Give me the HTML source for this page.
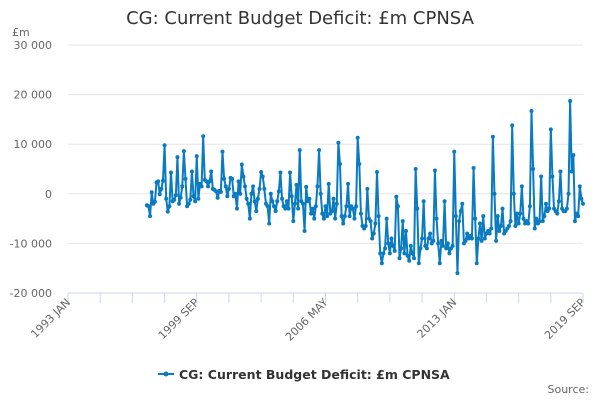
<!DOCTYPE html>
<html><head><meta charset="utf-8">
<style>
body{margin:0;background:#fff;font-family:"Liberation Sans","DejaVu Sans",sans-serif;}
svg text{font-family:"DejaVu Sans","Liberation Sans",sans-serif;}
</style></head>
<body>
<svg id="chart" width="600" height="400" xmlns="http://www.w3.org/2000/svg">
<text x="300" y="24" text-anchor="middle" font-size="18" fill="#333">CG: Current Budget Deficit: £m CPNSA</text>
<text x="12" y="36" font-size="11" fill="#666">£m</text>
<g id="grid"></g><g id="xaxis"></g><g id="series"></g>
<g>
<line x1="158" y1="374" x2="174" y2="374" stroke="#0a7bc1" stroke-width="2"/>
<circle cx="166" cy="374" r="2.5" fill="#0a7bc1"/>
<text x="179" y="379" font-size="12.5" font-weight="bold" fill="#333">CG: Current Budget Deficit: £m CPNSA</text>
</g>
<text x="589" y="393" text-anchor="end" font-size="11" fill="#666">Source:</text>
</svg>
<script>
const yTicks=[30000,20000,10000,0,-10000,-20000];
const yTickLabels=["30 000","20 000","10 000","0","-10 000","-20 000"];
const xTickLabels=["1993 JAN","1999 SEP","2006 MAY","2013 JAN","2019 SEP"];
const xTickMonths=[0,80,160,240,320];
const startMonth=49; // Feb 1997, months since Jan 1993
const values=[
-2300,-2500,-4500,300,-2000,-1600,2300,2500,-100,1000,2600,
9800,-1000,-3600,-2500,4300,-1500,-1200,-300,7400,-2000,-800,1500,
8600,3000,-2500,-2000,-1200,4500,-500,-1500,7600,-1000,2000,1500,
11600,2800,2500,1500,2500,4500,1000,800,500,-800,600,400,
8500,3000,1500,-500,1000,3200,3000,-500,0,-3000,2500,0,
5900,3500,1500,-1000,-2000,-5000,0,1500,-1500,-3500,-1000,1000,
4400,3500,1000,-2000,-2500,-6000,0,-1500,-2500,-3500,-1500,500,
4300,-1000,-2500,-3000,-1500,-3000,4300,-500,-5500,-2000,1800,-3000,
8800,-1500,-2000,-7500,1400,-1500,-1000,-4000,-3000,-5000,-2500,1500,
8800,0,-4000,-5000,-2500,-4500,2000,-4000,-3500,-1000,-5000,-2000,
10300,6000,-4500,-6000,-4500,-2500,2000,-4500,-2500,-3000,-5000,-2500,
11300,6000,-4000,-6500,-7000,-6500,1000,-5000,-5500,-9000,-8000,-6000,
4400,-4500,-12000,-14000,-12000,-11000,-5000,-10000,-12000,-9000,-10500,-11500,
-600,-2500,-13000,-11000,-5500,-12000,-7500,-12500,-13500,-10500,-12000,-13000,
5000,-3000,-14000,-11000,-9000,-1500,-10500,-11000,-9000,-8000,-10000,-9500,
4700,-5000,-10000,-14000,-9500,-10500,-1500,-11000,-10000,-12000,-11000,-10500,
8500,-4500,-16000,-5500,-3500,-2000,-10000,-9500,-8000,-9000,-8500,-9000,
5200,-5000,-14000,-9000,-6000,-9500,-4500,-9000,-8000,-7500,-8000,-7000,
11500,0,-9500,-4500,-7500,-6500,-3000,-8000,-7500,-7000,-6500,-5500,
13800,0,-6500,-4000,-6000,-4000,1500,-5000,-6000,-5500,-6000,-2500,
16700,5000,-7000,-5000,-6000,-5500,3500,-5500,-4500,-2000,-3500,-3000,
13000,3500,-3000,-3500,-4000,-1500,4500,-3000,-3500,-3500,-3000,0,
18700,4500,7800,-5500,-4000,-4500,1500,-1000,-2000
];
const NS="http://www.w3.org/2000/svg";
const X0=68,X1=583,Y0=293,Y1=45;
const xs=m=>X0+(X1-X0)*m/320;
const ys=v=>Y0+(Y1-Y0)*(v+20000)/50000;
function mk(tag,attrs,parent){const e=document.createElementNS(NS,tag);for(const k in attrs)e.setAttribute(k,attrs[k]);parent.appendChild(e);return e;}
const grid=document.getElementById('grid');
yTicks.forEach((t,i)=>{
  if(t!==-20000){const l=mk('line',{x1:X0,x2:X1,y1:ys(t),y2:ys(t),stroke:'#e6e6e6','stroke-width':1},grid);
  
  }
  const tx=mk('text',{x:52,y:ys(t)+4,'text-anchor':'end','font-size':11,fill:'#666'},grid);
  tx.textContent=yTickLabels[i];
  
  
});
const xa=document.getElementById('xaxis');
const al=mk('line',{x1:X0,x2:X1,y1:Y0,y2:Y0,stroke:'#ccd6eb','stroke-width':1},xa);


for(let m=0;m<=320;m+=20){const t=mk('line',{x1:xs(m),x2:xs(m),y1:Y0,y2:Y0+10,stroke:'#ccd6eb','stroke-width':1},xa);

}
xTickMonths.forEach((m,i)=>{
  const x=xs(m)+3,y=Y0+10;
  const tx=mk('text',{x:x,y:y,'text-anchor':'end','font-size':11,fill:'#666',transform:`rotate(-45 ${x} ${y})`},xa);
  tx.textContent=xTickLabels[i];
  
  
});
const sg=document.getElementById('series');
const pts=values.map((v,i)=>[xs(startMonth+i),ys(v)]);
const pl=mk('polyline',{points:pts.map(p=>p.join(',')).join(' '),fill:'none',stroke:'#0a7bc1','stroke-width':2,'stroke-linejoin':'round'},sg);


pts.forEach(p=>{const c=mk('circle',{cx:p[0],cy:p[1],r:2,fill:'#0a7bc1'},sg);

});
</script>
</body></html>
